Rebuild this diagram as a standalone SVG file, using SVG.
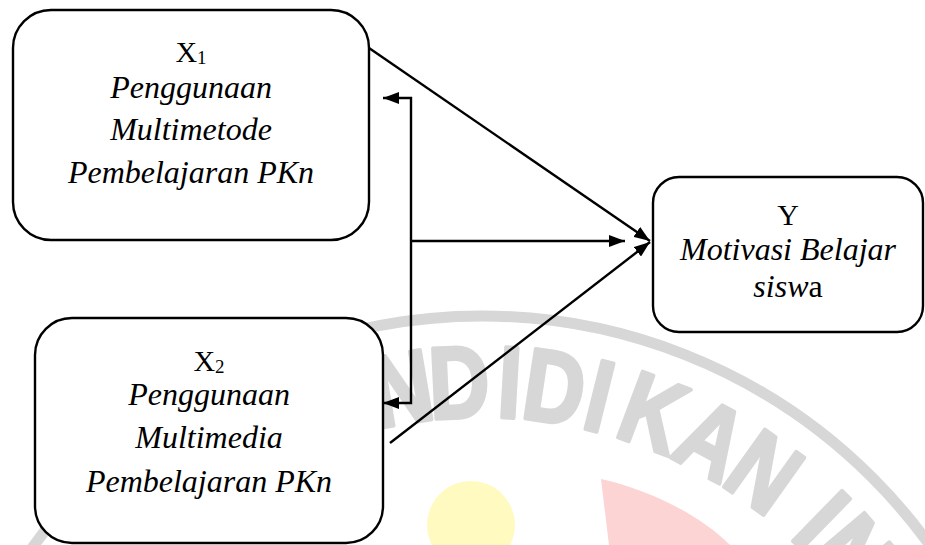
<svg xmlns="http://www.w3.org/2000/svg" width="925" height="545" viewBox="0 0 925 545">
<style>
.box{fill:#fff;stroke:#000;stroke-width:2.4}
.t{font-family:"Liberation Serif","Times New Roman",serif;font-size:32px;fill:#000;text-anchor:middle}
.it{font-style:italic}
.lbl{font-family:"Liberation Serif","Times New Roman",serif;font-size:30px;fill:#000;text-anchor:middle}
.con{fill:none;stroke:#000;stroke-width:2.4}
.wm{font-family:"Liberation Sans",Arial,sans-serif;font-weight:bold;font-size:102px;fill:#d7d7d7;stroke:#d7d7d7;stroke-width:4;stroke-linejoin:round;text-anchor:middle}
</style>
<defs>
<marker id="ah" markerUnits="userSpaceOnUse" markerWidth="16" markerHeight="12" refX="16" refY="6" orient="auto-start-reverse">
<path d="M0,0 L16,6 L0,12 Z" fill="#000"/>
</marker>
</defs>
<g id="watermark">
<circle cx="482" cy="868" r="552" fill="none" stroke="#d7d7d7" stroke-width="11"/>
<circle cx="471" cy="525" r="44" fill="#fffbc0"/>
<path d="M601,479 C650,490 700,515 730,545 L609,545 Z" fill="#fcd4d4"/>
<text class="wm" transform="rotate(-9.5 482 868) translate(482 417) scale(0.82 1)">N</text>
<text class="wm" transform="rotate(-2.7 482 868) translate(482 417) scale(0.82 1)">D</text>
<text class="wm" transform="rotate(3.3 482 868) translate(482 417) scale(0.82 1)">I</text>
<text class="wm" transform="rotate(8.6 482 868) translate(482 417) scale(0.82 1)">D</text>
<text class="wm" transform="rotate(14 482 868) translate(482 417) scale(0.82 1)">I</text>
<text class="wm" transform="rotate(20.6 482 868) translate(482 417) scale(0.82 1)">K</text>
<text class="wm" transform="rotate(28.2 482 868) translate(482 417) scale(0.82 1)">A</text>
<text class="wm" transform="rotate(35.5 482 868) translate(482 417) scale(0.82 1)">N</text>
<text class="wm" transform="rotate(44.3 482 868) translate(482 417) scale(0.82 1)">I</text>
<text class="wm" transform="rotate(49.8 482 868) translate(482 417) scale(0.82 1)">N</text>
</g>
<g id="node-x1">
<rect class="box" x="13" y="10" width="356" height="230" rx="38" ry="38"/>
<text class="lbl" x="191" y="62">X<tspan font-size="19" dy="2">1</tspan></text>
<text class="t it" x="191" y="98">Penggunaan</text>
<text class="t it" x="191" y="140">Multimetode</text>
<text class="t it" x="191" y="183">Pembelajaran PKn</text>
</g>
<g id="node-x2">
<rect class="box" x="35" y="318" width="348" height="225" rx="37" ry="37"/>
<text class="lbl" x="209" y="371">X<tspan font-size="19" dy="2">2</tspan></text>
<text class="t it" x="209" y="405">Penggunaan</text>
<text class="t it" x="209" y="448">Multimedia</text>
<text class="t it" x="209" y="492">Pembelajaran PKn</text>
</g>
<g id="node-y">
<rect class="box" x="653" y="177" width="270" height="155" rx="26" ry="26"/>
<text class="lbl" x="788" y="225">Y</text>
<text class="t it" x="788" y="260">Motivasi Belajar</text>
<text class="t" x="788" y="297"><tspan class="it">sisw</tspan>a</text>
</g>
<g id="connectors">
<line class="con" x1="369" y1="48" x2="650" y2="241" marker-end="url(#ah)"/>
<line class="con" x1="390" y1="443" x2="650" y2="242" marker-end="url(#ah)"/>
<line class="con" x1="411" y1="241" x2="625" y2="241" marker-end="url(#ah)"/>
<path class="con" d="M383,98 H411 V403 H383" marker-start="url(#ah)" marker-end="url(#ah)"/>
</g>
</svg>
